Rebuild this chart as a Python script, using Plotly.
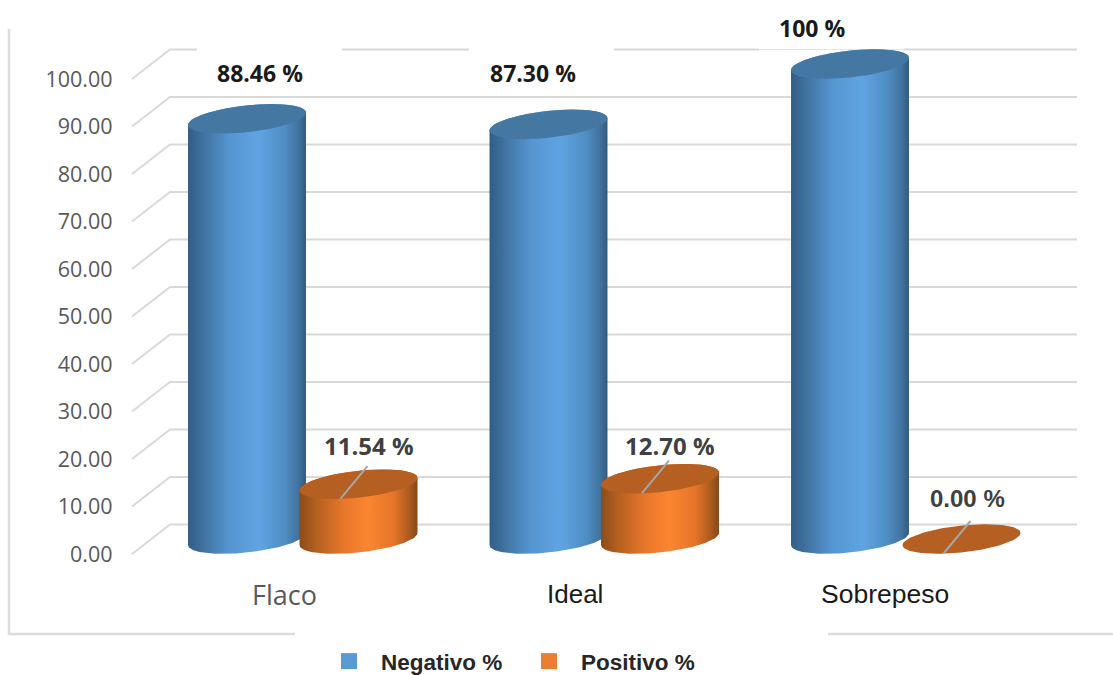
import numpy as np
import plotly.graph_objects as go

# Chart values
categories = ["Flaco", "Ideal", "Sobrepeso"]
negativo = [88.46, 87.30, 100.0]
positivo = [11.54, 12.70, 0.0]
negativo_labels = ["88.46 %", "87.30 %", "100 %"]
positivo_labels = ["11.54 %", "12.70 %", "0.00 %"]
axis_ticks = list(range(0, 101, 10))

W, H = 1113, 675
AXIS_PX = 112.5
PX_PER_X = 301.5
PX_PER_Y = 4.75
GROUP0_PX = 247.0
BASE_PX = 539.0
WALL_BASE_PX = 554.0


def dx(px):
    return px / PX_PER_X


def dy(px):
    return px / PX_PER_Y


def xp(px):
    return dx(px - GROUP0_PX)


x_range = [xp(0), xp(W)]
cyl_range = [dy(BASE_PX - H), dy(BASE_PX)]
wall_range = [dy(WALL_BASE_PX - H), dy(WALL_BASE_PX)]

# Cylinder geometry: an oblique disc projected onto the chart plane
POS_OFFSET = dx(111.5)
AX, SKEW, QY = dx(53.7), dx(24.4), dy(14.8)
T_EXT = np.arctan2(24.4, 53.7)


def disc(cx, cy, t):
    return cx + AX * np.cos(t) + SKEW * np.sin(t), cy + QY * np.sin(t)


BLUE_SCALE = [[0, "#305d86"], [0.12, "#3f719e"], [0.35, "#5595d0"], [0.6, "#5fa4e2"],
              [0.82, "#4f8dc4"], [0.94, "#41729c"], [1, "#315a7e"]]
ORANGE_SCALE = [[0, "#8c4c1a"], [0.14, "#b3601f"], [0.38, "#e9772b"], [0.58, "#fb8531"],
                [0.8, "#e57529"], [0.93, "#ab5a1f"], [1, "#84481a"]]
BLUE_TOP = "#4577a3"
ORANGE_TOP = "#b55f22"
GRID = "#d9d9d9"

fig = go.Figure()


def add_line(xs, ys, width=2.0, color=GRID, yaxis="y"):
    fig.add_trace(go.Scatter(x=xs, y=ys, mode="lines", yaxis=yaxis, showlegend=False,
                             hoverinfo="skip", line=dict(color=color, width=width)))


# Side and back walls of the chart box, on the axis that carries the tick labels
wall_x0, wall_x1, wall_end = xp(132), xp(170), xp(1077)
wall_rise = dy(29.5)
for v in axis_ticks:
    top = v + wall_rise
    if v == 100:
        add_line([wall_x0, wall_x1, xp(197), None, xp(342), xp(469), None, xp(614), xp(759), None, xp(904), wall_end],
                 [v, top, top, None, top, top, None, top, top, None, top, top])
        add_line([xp(759), xp(904)], [top, top], width=1.0, color="#e4e4e4")
    else:
        add_line([wall_x0, wall_x1, wall_end], [v, top, top])

# Outer frame fragments around the plot
frame_left, frame_bottom = xp(9), dy(WALL_BASE_PX - 634)
add_line([frame_left, frame_left, xp(295), None, xp(828), xp(W)],
         [dy(WALL_BASE_PX - 29), frame_bottom, frame_bottom, None, frame_bottom, frame_bottom],
         width=2.5, color="#dcdcdc")


def add_cylinder(cx, value, scale, top_color):
    # Body: front half of the base disc, then back over the top disc
    bx, by = disc(cx, 0, np.linspace(np.pi + T_EXT, 2 * np.pi + T_EXT, 60))
    tx, ty = disc(cx, value, np.linspace(T_EXT, np.pi + T_EXT, 60))
    if value > 0:
        fig.add_trace(go.Scatter(
            x=np.concatenate([bx, tx]).tolist(), y=np.concatenate([by, ty]).tolist(), yaxis="y2",
            mode="lines", line=dict(width=0), fill="toself", showlegend=False, hoverinfo="skip",
            fillgradient=dict(type="horizontal", colorscale=scale)))
    ex, ey = disc(cx, value, np.linspace(0, 2 * np.pi, 121))
    fig.add_trace(go.Scatter(x=ex.tolist(), y=ey.tolist(), yaxis="y2", mode="lines", line=dict(width=0),
                             fill="toself", fillcolor=top_color, showlegend=False, hoverinfo="skip"))


for i in range(len(categories)):
    add_cylinder(i, negativo[i], BLUE_SCALE, BLUE_TOP)
    add_cylinder(i + POS_OFFSET, positivo[i], ORANGE_SCALE, ORANGE_TOP)
    # Leader from the orange disc up to its label
    cx = i + POS_OFFSET
    add_line([cx - dx(18), cx + dx(9)], [positivo[i] - dy(14.5), positivo[i] + dy(18)],
             width=2, color="#a6a6a6", yaxis="y2")

# Legend entries
for name, color in (("Negativo %", "#5b9bd5"), ("Positivo %", "#ed7d31")):
    fig.add_trace(go.Scatter(x=[None], y=[None], name=name, mode="markers",
                             marker=dict(symbol="square", size=16, color=color)))

annotations = []
BLACK_FONT = dict(family="Open Sans", size=23, color="#1a1a1a", weight="bold")
GREY_FONT = dict(family="Open Sans", size=24, color="#404040", weight="bold")
ARIAL_GREY = dict(family="Liberation Sans", size=24, color="#404040", weight="bold")
neg_shift = [(13, 45.5), (-16, 51), (-38, 36.5)]
pos_shift = [(10, 39), (10, 33), (6, 41)]
for i in range(len(categories)):
    annotations.append(dict(x=i, y=negativo[i], text=negativo_labels[i], showarrow=False,
                            xref="x", yref="y2", xshift=neg_shift[i][0], yshift=neg_shift[i][1],
                            font=BLACK_FONT))
    annotations.append(dict(x=i + POS_OFFSET, y=positivo[i], text=positivo_labels[i], showarrow=False,
                            xref="x", yref="y2", xshift=pos_shift[i][0], yshift=pos_shift[i][1],
                            font=ARIAL_GREY if i == 2 else GREY_FONT))

category_fonts = [dict(family="Open Sans", size=27, color="#595959"),
                  dict(family="Liberation Sans", size=26, color="#1a1a1a"),
                  dict(family="Liberation Sans", size=26.5, color="#1a1a1a")]
category_shift = [37.5, 26.5, 35]
for i, name in enumerate(categories):
    annotations.append(dict(x=i + dx(category_shift[i]), y=dy(BASE_PX - 594), text=name, showarrow=False,
                            xref="x", yref="y2", font=category_fonts[i]))

fig.update_layout(
    width=W, height=H, autosize=False,
    margin=dict(l=0, r=0, t=0, b=0, autoexpand=False),
    paper_bgcolor="white", plot_bgcolor="white",
    font=dict(family="Open Sans", color="#595959"),
    hovermode=False,
    annotations=annotations,
    xaxis=dict(range=x_range, visible=False, fixedrange=True),
    yaxis=dict(range=wall_range, fixedrange=True, tickvals=axis_ticks, tickformat=".2f",
               anchor="free", position=AXIS_PX / W,
               showgrid=False, zeroline=False, showline=False, ticks="",
               tickfont=dict(family="Open Sans", size=21.5, color="#595959")),
    yaxis2=dict(range=cyl_range, overlaying="y", visible=False, fixedrange=True),
    legend=dict(orientation="h", x=317 / W, xanchor="left", y=1 - 640 / H, yanchor="top",
                itemwidth=54, entrywidth=131, entrywidthmode="pixels",
                bgcolor="rgba(0,0,0,0)", traceorder="normal",
                font=dict(family="Liberation Sans", size=22.5, color="#262626", weight="bold")),
)

fig.write_html("out.html")
